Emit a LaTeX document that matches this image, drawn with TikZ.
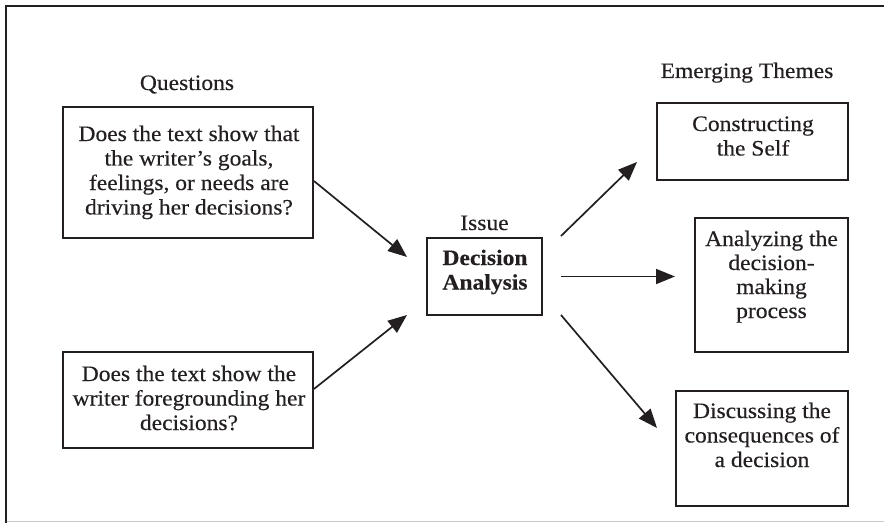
\documentclass[tikz,border=0pt]{standalone}
\usepackage{fontspec}
\setmainfont{Liberation Serif}[FakeStretch=1.07, FakeBold=0.35]
\usetikzlibrary{arrows.meta}
\definecolor{ink}{HTML}{231F20}
\definecolor{rim}{HTML}{C8C8C8}

\begin{document}
\begin{tikzpicture}[x=1pt,y=-1pt,
  every node/.style={font=\fontsize{22}{24.5}\selectfont, text=ink, inner sep=0pt},
  boxshape/.style={draw=ink, line width=1.9pt, rectangle, inner sep=0pt},
  txt/.style={anchor=base, align=center},
  arr/.style={draw=ink, line width=1.7pt, -{Triangle[length=19pt,width=15pt]}}]
\useasboundingbox (0,0) rectangle (884,524);

% outer frame
\draw[rim, line width=1.5pt] (6,521.5) -- (884,521.5);
\draw[ink, line width=2.8pt] (6,523) -- (6,6) -- (884,6);

% headings (anchored at the baseline of the last line)
\node[txt] (qhead) at (187,90) {Questions};
\node[txt] (ehead) at (747,78) {Emerging Themes};
\node[txt] (ihead) at (484.5,230) {Issue};

% question boxes
\node[boxshape, minimum width=250pt, minimum height=131pt] (q1) at (188,172.5) {};
\node[txt] (q1t) at (189,214.5) {Does the text show that\\the writer’s goals,\\feelings, or needs are\\driving her decisions?};
\node[boxshape, minimum width=250pt, minimum height=96pt] (q2) at (188,400) {};
\node[txt] (q2t) at (189,430) {Does the text show the\\writer foregrounding her\\decisions?};

% central issue
\node[boxshape, minimum width=115pt, minimum height=77pt] (dec) at (484.5,276.5) {};
\node[txt, font=\fontsize{22}{24.5}\selectfont\bfseries] (dect) at (485,289.5) {Decision\\Analysis};

% theme boxes
\node[boxshape, minimum width=191pt, minimum height=77pt] (t1) at (752.5,141.5) {};
\node[txt] (t1t) at (753,155.5) {Constructing\\the Self};
\node[boxshape, minimum width=153pt, minimum height=134pt] (t2) at (771.5,285) {};
\node[txt, font=\fontsize{22}{24}\selectfont] (t2t) at (771.5,318) {Analyzing the\\decision-\\making\\process};
\node[boxshape, minimum width=172pt, minimum height=115pt] (t3) at (762,448.5) {};
\node[txt] (t3t) at (762,467) {Discussing the\\consequences of\\a decision};

% arrow tips
\coordinate (tipq1) at (407,257);
\coordinate (tipq2) at (407,315);
\coordinate (tipt1) at (637,162);
\coordinate (tipt2) at (675,276.5);
\coordinate (tipt3) at (657,428);

% connectors
\draw[arr] ([yshift=-8.5pt]q1.east) -- (tipq1);
\draw[arr] ([yshift=11pt]q2.east) -- (tipq2);
\draw[arr] ([xshift=18pt,yshift=1pt]dec.north east) -- (tipt1);
\draw[arr] ([xshift=18pt]dec.east) -- (tipt2);
\draw[arr] ([xshift=18pt,yshift=1pt]dec.south east) -- (tipt3);
\end{tikzpicture}
\end{document}
